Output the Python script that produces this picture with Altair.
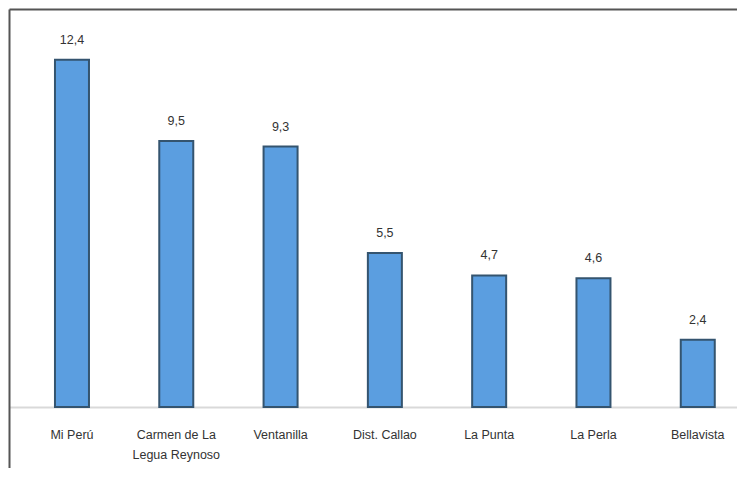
import altair as alt
import pandas as pd

categories = ["Mi Perú", "Carmen de La Legua Reynoso", "Ventanilla", "Dist. Callao",
              "La Punta", "La Perla", "Bellavista"]
values = [12.4, 9.5, 9.3, 5.5, 4.7, 4.6, 2.4]
labels = ["12,4", "9,5", "9,3", "5,5", "4,7", "4,6", "2,4"]

df = pd.DataFrame({"cat": categories, "val": values, "lab": labels})

FONT = "Liberation Sans Narrow, Arial Narrow, Liberation Sans, sans-serif"

W = 728
H = 459
BASE = 398
PX = 28.0

xscale = alt.Scale(paddingInner=0.674, paddingOuter=0.327, align=0.674)
yaxis = alt.Axis(domain=True, domainColor="#555555", domainWidth=2, labels=False,
                 ticks=False, grid=False, title=None)
x = alt.X("cat:N", sort=categories, title=None, scale=xscale,
          axis=alt.Axis(orient="bottom", domain=True, domainColor="#d9d9d9", domainWidth=2,
                        offset=BASE - H,
                        ticks=False, labelAngle=0, labelPadding=21,
                        labelFontSize=12.5, labelColor="#333333", labelFont=FONT,
                        labelLineHeight=20, labelBaseline="top",
                        labelExpr="datum.value == 'Carmen de La Legua Reynoso' ? ['Carmen de La', 'Legua Reynoso'] : datum.value"))
y = alt.Y("val:Q", title=None,
          scale=alt.Scale(domain=[-(H - BASE) / PX, BASE / PX], nice=False, zero=False),
          axis=yaxis)

base = alt.Chart(df)

bars = base.mark_bar(color="#5b9ee0", stroke="#34546f", strokeWidth=2).encode(x=x, y=y)

text = base.mark_text(baseline="bottom", dy=-13, fontSize=12.5, font=FONT, color="#333333").encode(
    x=alt.X("cat:N", sort=categories,
            axis=alt.Axis(orient="top", domain=True, domainColor="#555555", domainWidth=2,
                          labels=False, ticks=False, title=None)),
    y=alt.Y("val:Q", axis=yaxis),
    text="lab:N")

chart = alt.layer(bars, text).resolve_axis(x="independent").properties(
    width=W, height=H, autosize=alt.AutoSizeParams(type="none"),
    padding={"left": 1, "top": 1, "right": 0, "bottom": 0}
).configure_view(stroke=None)

chart.save("out.html", embed_options={"renderer": "svg", "actions": False})
